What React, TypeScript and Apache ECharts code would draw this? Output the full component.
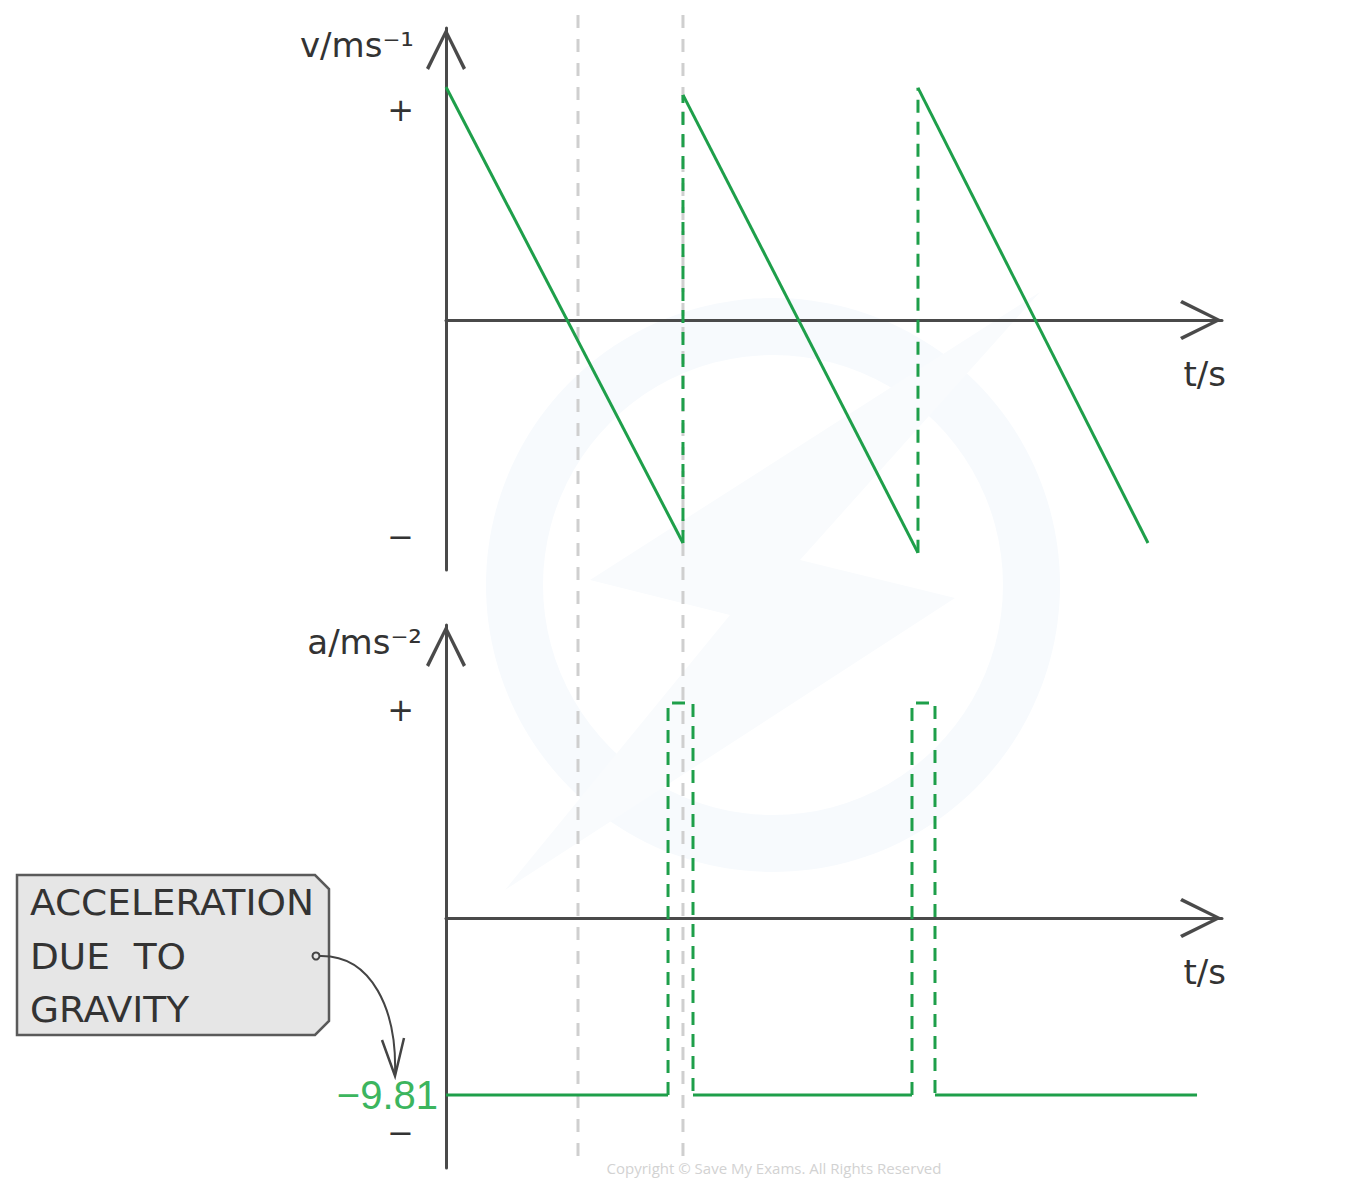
import React, { useEffect, useRef } from 'react';
import * as echarts from 'echarts';

// ---- data ----
const tRange = [0, 7.119];
const vRange = [-11.66, 13.61];
const aRange = [-13.86, 16.24];

const velocitySegmentTimes = [[0, 2.174], [2.174, 4.33], [4.33, 6.44]];
const velocitySegmentValues = [[10.86, -10.4], [10.49, -10.86], [10.82, -10.4]];
const velocityJumpTimes = [2.174, 4.33];
const velocityJumpValues = [[-10.4, 10.49], [-10.86, 10.82]];

const gravity = -9.81;
const freeFallTimes = [[0, 2.037], [2.266, 4.275], [4.486, 6.89]];
const bounceTimes = [[2.037, 2.266], [4.275, 4.486]];
const bouncePeak = 11.92;

const vTickValues = [9.79, -10.12];
const vTickLabels = ['+', '−'];
const aTickValues = [11.53, -9.81, -11.92];
const aTickLabels = ['+', '−9.81', '−'];
const guideTimes = [1.211, 2.174];

// ---- styles ----
const GREEN = '#1e9f4a';
const LABEL_GREEN = '#3cb55e';
const AXIS = '#4a4a4a';
const TEXT = '#333333';
const FONT = 'DejaVu Sans';
const ARROW = 'path://M20,0 L40,40 L37,42 L20,7 L3,42 L0,40 Z';

const axisLine = {
  show: true,
  symbol: ['none', ARROW],
  symbolSize: [40, 42],
  symbolOffset: [0, -21],
  lineStyle: { color: AXIS, width: 3 },
};

const rich = {
  pm: { fontSize: 32, color: TEXT, fontFamily: FONT, padding: [0, 24, 0, 0] },
  g: { fontSize: 40, color: LABEL_GREEN, fontFamily: 'Liberation Sans' },
};

function makeFormatter(values: number[], labels: string[]) {
  return (val: number) => {
    const i = values.findIndex((v) => Math.abs(v - val) < 1e-6);
    if (i < 0) return '';
    const lab = labels[i];
    return lab.length > 1 ? `{g|${lab}}` : `{pm|${lab}}`;
  };
}

function xAxisFor(gridIndex: number) {
  return {
    type: 'value',
    gridIndex,
    min: tRange[0],
    max: tRange[1],
    axisLine,
    axisTick: { show: false },
    axisLabel: { show: false },
    splitLine: { show: false },
    name: 't/s',
    nameLocation: 'end',
    nameGap: 4,
    nameTextStyle: {
      fontSize: 34,
      fontFamily: FONT,
      color: TEXT,
      align: 'right',
      verticalAlign: 'top',
      padding: [37, 0, 0, 0],
    },
  };
}

function yAxisFor(gridIndex: number, range: number[], name: string, values: number[], labels: string[], padRight: number) {
  return {
    type: 'value',
    gridIndex,
    min: range[0],
    max: range[1],
    axisLine,
    axisTick: { show: false },
    splitLine: { show: false },
    axisLabel: {
      customValues: values,
      margin: 8,
      formatter: makeFormatter(values, labels),
      rich,
    },
    name,
    nameLocation: 'end',
    nameGap: -17,
    nameTextStyle: {
      fontSize: 34,
      fontFamily: FONT,
      color: TEXT,
      align: 'right',
      verticalAlign: 'middle',
      padding: [0, padRight, 0, 0],
    },
  };
}

const lineBase = { type: 'line', symbol: 'none', silent: true, animation: false };

const series: any[] = [];
velocitySegmentTimes.forEach((ts, i) => {
  series.push({
    ...lineBase,
    xAxisIndex: 0,
    yAxisIndex: 0,
    data: [[ts[0], velocitySegmentValues[i][0]], [ts[1], velocitySegmentValues[i][1]]],
    lineStyle: { color: GREEN, width: 3 },
  });
});
velocityJumpTimes.forEach((t, i) => {
  series.push({
    ...lineBase,
    xAxisIndex: 0,
    yAxisIndex: 0,
    data: [[t, velocityJumpValues[i][0]], [t, velocityJumpValues[i][1]]],
    lineStyle: { color: GREEN, width: 3, type: [13, 9] },
  });
});
freeFallTimes.forEach((ts) => {
  series.push({
    ...lineBase,
    xAxisIndex: 1,
    yAxisIndex: 1,
    data: [[ts[0], gravity], [ts[1], gravity]],
    lineStyle: { color: GREEN, width: 3 },
  });
});
bounceTimes.forEach((ts) => {
  series.push({
    ...lineBase,
    xAxisIndex: 1,
    yAxisIndex: 1,
    data: [[ts[0], gravity], [ts[0], bouncePeak], [ts[1], bouncePeak], [ts[1], gravity]],
    lineStyle: { color: GREEN, width: 3, type: [13, 9] },
  });
});

const option: any = {
  animation: false,
  backgroundColor: '#ffffff',
  grid: [
    { left: 446, top: 28, width: 776, height: 542, containLabel: false, outerBoundsMode: 'none' },
    { left: 446, top: 625, width: 776, height: 543, containLabel: false, outerBoundsMode: 'none' },
  ],
  xAxis: [xAxisFor(0), xAxisFor(1)],
  yAxis: [
    yAxisFor(0, vRange, 'v/ms⁻¹', vTickValues, vTickLabels, 32),
    yAxisFor(1, aRange, 'a/ms⁻²', aTickValues, aTickLabels, 24),
  ],
  series,
};

const staticGraphics: any[] = [
  // faint watermark
  {
    type: 'ring',
    silent: true,
    z: 0,
    shape: { cx: 773, cy: 585, r: 287, r0: 230 },
    style: { fill: '#f7fafd' },
  },
  {
    type: 'polygon',
    silent: true,
    z: 0,
    shape: { points: [[1040, 292], [590, 580], [730, 615], [505, 890], [955, 598], [800, 560]] },
    style: { fill: '#f9fbfd' },
  },
  // annotation box
  {
    type: 'polygon',
    silent: true,
    z: 5,
    shape: { points: [[17, 875], [315, 875], [329, 889], [329, 1021], [315, 1035], [17, 1035]] },
    style: { fill: '#e6e6e6', stroke: '#5a5a5a', lineWidth: 2.5 },
  },
  ...['ACCELERATION', 'DUE  TO', 'GRAVITY'].map((t, i) => ({
    type: 'text',
    silent: true,
    z: 6,
    x: 30,
    y: 903 + i * 53.5,
    scaleX: 1.07,
    style: { text: t, fontSize: 35, fontFamily: FONT, fill: TEXT, align: 'left', verticalAlign: 'middle' },
  })),
  {
    type: 'circle',
    silent: true,
    z: 6,
    shape: { cx: 316, cy: 956, r: 3.5 },
    style: { fill: '#e6e6e6', stroke: '#444', lineWidth: 2 },
  },
  {
    type: 'bezierCurve',
    silent: true,
    z: 6,
    shape: { x1: 320, y1: 956, cpx1: 372, cpy1: 955, cpx2: 397, cpy2: 1010, x2: 395, y2: 1074 },
    style: { stroke: '#444', lineWidth: 2, fill: null },
  },
  {
    type: 'polyline',
    silent: true,
    z: 6,
    shape: { points: [[382, 1040], [395, 1076], [404, 1038]] },
    style: { stroke: '#444', lineWidth: 2.5, fill: null },
  },
  {
    type: 'text',
    silent: true,
    z: 1,
    x: 774,
    y: 1168,
    style: {
      text: 'Copyright © Save My Exams. All Rights Reserved',
      fontSize: 15,
      fontFamily: 'Open Sans',
      fill: '#d2d2d2',
      align: 'center',
      verticalAlign: 'middle',
    },
  },
];

export default function App() {
  const ref = useRef<HTMLDivElement>(null);
  useEffect(() => {
    const chart = echarts.init(ref.current!, null, { renderer: 'svg' });
    chart.setOption(option);
    const guides = guideTimes.map((t) => {
      const x = chart.convertToPixel({ xAxisIndex: 0 }, t) as number;
      return {
        type: 'line',
        silent: true,
        z: 1,
        shape: { x1: x, y1: 15, x2: x, y2: 1167 },
        style: { stroke: '#cfcfcf', lineWidth: 3, lineDash: [13, 11] },
      };
    });
    chart.setOption({ graphic: [...staticGraphics, ...guides] });
    return () => chart.dispose();
  }, []);
  return (
    <div
      ref={ref}
      style={{ position: 'fixed', left: 0, top: 0, width: 1371, height: 1200, background: '#fff' }}
    />
  );
}
